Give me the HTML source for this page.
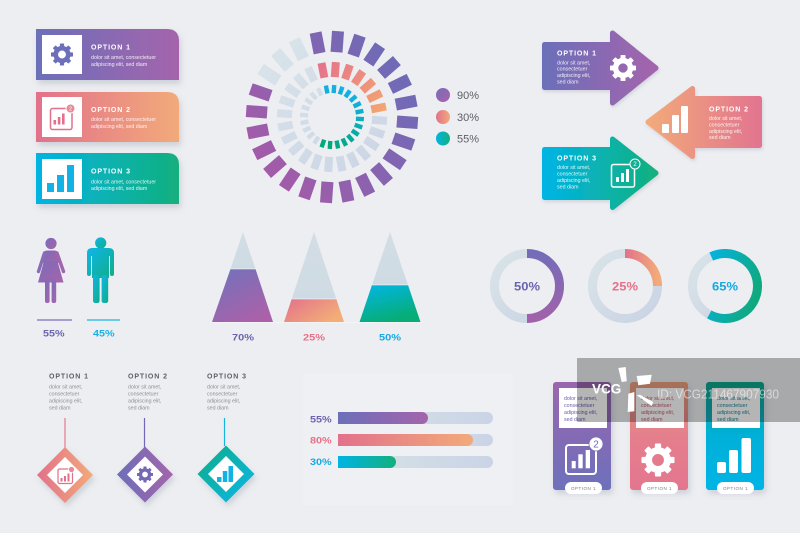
<!DOCTYPE html>
<html><head><meta charset="utf-8">
<style>
html,body{margin:0;padding:0;background:#edeef1;}
svg{display:block;font-family:"Liberation Sans",Arial,sans-serif;}
.h{font-weight:bold;font-size:7px;letter-spacing:0.9px;fill:#fff;}
.s{font-size:5.3px;fill:#fff;fill-opacity:0.88;}
.hd{font-weight:bold;font-size:7px;letter-spacing:0.9px;fill:#5b5f66;}
.sd{font-size:5.3px;fill:#8c8f95;}
.p{font-size:9.6px;font-weight:bold;}
.dn{font-size:11.5px;font-weight:bold;}
</style></head><body>
<svg width="800" height="533" viewBox="0 0 800 533" xmlns="http://www.w3.org/2000/svg">
<defs>
 <linearGradient id="gP" x1="0" y1="0" x2="1" y2="0"><stop offset="0" stop-color="#6c6fb9"/><stop offset="1" stop-color="#a464ac"/></linearGradient>
 <linearGradient id="gK" x1="0" y1="0" x2="1" y2="0"><stop offset="0" stop-color="#e2718b"/><stop offset="1" stop-color="#f2aa7a"/></linearGradient>
 <linearGradient id="gKr" x1="0" y1="0" x2="1" y2="0"><stop offset="0" stop-color="#f2aa7a"/><stop offset="1" stop-color="#e2758f"/></linearGradient>
 <linearGradient id="gC" x1="0" y1="0" x2="1" y2="0"><stop offset="0" stop-color="#00b4e4"/><stop offset="1" stop-color="#13b07d"/></linearGradient>
 <linearGradient id="gPd" x1="0" y1="0" x2="1" y2="1"><stop offset="0" stop-color="#7a6cb9"/><stop offset="1" stop-color="#a763ab"/></linearGradient>
 <linearGradient id="gCd" x1="0" y1="0" x2="1" y2="1"><stop offset="0" stop-color="#0cb6ea"/><stop offset="1" stop-color="#12ad84"/></linearGradient>
 <linearGradient id="gPv" x1="0" y1="0" x2="0.6" y2="1"><stop offset="0" stop-color="#6f72bc"/><stop offset="1" stop-color="#a962aa"/></linearGradient>
 <linearGradient id="gKv" x1="0" y1="0" x2="1" y2="0.6"><stop offset="0" stop-color="#e3708b"/><stop offset="1" stop-color="#f3ae78"/></linearGradient>
 <linearGradient id="gCv" x1="0" y1="0" x2="0.4" y2="1"><stop offset="0" stop-color="#00b6e8"/><stop offset="1" stop-color="#07ad76"/></linearGradient>
 <linearGradient id="gG" x1="0" y1="0" x2="1" y2="1"><stop offset="0" stop-color="#d9e4e8"/><stop offset="1" stop-color="#c9d3e4"/></linearGradient>
 <linearGradient id="gGh" x1="0" y1="0" x2="1" y2="0"><stop offset="0" stop-color="#d8e3e7"/><stop offset="1" stop-color="#cad4e6"/></linearGradient>
 <linearGradient id="gTri" x1="0" y1="0" x2="0" y2="1"><stop offset="0" stop-color="#d2dde5"/><stop offset="1" stop-color="#cfdbe4"/></linearGradient>
 <linearGradient id="rO" gradientUnits="userSpaceOnUse" x1="410" y1="60" x2="255" y2="170"><stop offset="0" stop-color="#6a6cb8"/><stop offset="1" stop-color="#a65aa8"/></linearGradient>
 <linearGradient id="rM" gradientUnits="userSpaceOnUse" x1="318" y1="62" x2="386" y2="110"><stop offset="0" stop-color="#e5718d"/><stop offset="1" stop-color="#f4a670"/></linearGradient>
 <linearGradient id="rI" gradientUnits="userSpaceOnUse" x1="340" y1="88" x2="318" y2="148"><stop offset="0" stop-color="#12b1e8"/><stop offset="1" stop-color="#00a873"/></linearGradient>
 <linearGradient id="rG" gradientUnits="userSpaceOnUse" x1="250" y1="35" x2="415" y2="200"><stop offset="0" stop-color="#dae5ea"/><stop offset="1" stop-color="#c8d1e4"/></linearGradient>
 <linearGradient id="dP" x1="0" y1="0" x2="0" y2="1"><stop offset="0" stop-color="#746cb9"/><stop offset="1" stop-color="#a062aa"/></linearGradient>
 <linearGradient id="dC" gradientUnits="userSpaceOnUse" x1="700" y1="270" x2="758" y2="290"><stop offset="0" stop-color="#04b3e6"/><stop offset="1" stop-color="#10a97f"/></linearGradient>
 <linearGradient id="cP" x1="0" y1="0" x2="0" y2="1"><stop offset="0" stop-color="#9a66ad"/><stop offset="1" stop-color="#6d70bc"/></linearGradient>
 <linearGradient id="cK" x1="0" y1="0" x2="0" y2="1"><stop offset="0" stop-color="#eca07c"/><stop offset="0.5" stop-color="#e47e8c"/><stop offset="1" stop-color="#e3768f"/></linearGradient>
 <linearGradient id="cC" x1="0" y1="0" x2="0" y2="1"><stop offset="0" stop-color="#10a68a"/><stop offset="0.5" stop-color="#04b0d8"/><stop offset="1" stop-color="#00b4e6"/></linearGradient>
 <filter id="sh" x="-20%" y="-20%" width="150%" height="160%"><feDropShadow dx="2" dy="4" stdDeviation="3" flood-color="#7d8aa0" flood-opacity="0.28"/></filter>
 <filter id="sh2" x="-20%" y="-20%" width="150%" height="160%"><feDropShadow dx="1" dy="2" stdDeviation="1.5" flood-color="#7d8aa0" flood-opacity="0.25"/></filter>
 <g id="gear">
  <circle r="5.7" fill="none" stroke="currentColor" stroke-width="4.2"/>
  <g fill="currentColor">
   <rect x="-1.9" y="-10" width="3.8" height="3.6" rx="0.6"/>
   <rect x="-1.9" y="-10" width="3.8" height="3.6" rx="0.6" transform="rotate(45)"/>
   <rect x="-1.9" y="-10" width="3.8" height="3.6" rx="0.6" transform="rotate(90)"/>
   <rect x="-1.9" y="-10" width="3.8" height="3.6" rx="0.6" transform="rotate(135)"/>
   <rect x="-1.9" y="-10" width="3.8" height="3.6" rx="0.6" transform="rotate(180)"/>
   <rect x="-1.9" y="-10" width="3.8" height="3.6" rx="0.6" transform="rotate(225)"/>
   <rect x="-1.9" y="-10" width="3.8" height="3.6" rx="0.6" transform="rotate(270)"/>
   <rect x="-1.9" y="-10" width="3.8" height="3.6" rx="0.6" transform="rotate(315)"/>
  </g>
 </g>
 <mask id="mOc"><g fill="#fff" transform="translate(332,117)">
  <rect x="-6" y="-86" width="12" height="21" transform="rotate(-11)"/>
  <rect x="-6" y="-86" width="12" height="21" transform="rotate(4)"/>
  <rect x="-6" y="-86" width="12" height="21" transform="rotate(19)"/>
  <rect x="-6" y="-86" width="12" height="21" transform="rotate(34)"/>
  <rect x="-6" y="-86" width="12" height="21" transform="rotate(49)"/>
  <rect x="-6" y="-86" width="12" height="21" transform="rotate(64)"/>
  <rect x="-6" y="-86" width="12" height="21" transform="rotate(79)"/>
  <rect x="-6" y="-86" width="12" height="21" transform="rotate(94)"/>
  <rect x="-6" y="-86" width="12" height="21" transform="rotate(109)"/>
  <rect x="-6" y="-86" width="12" height="21" transform="rotate(124)"/>
  <rect x="-6" y="-86" width="12" height="21" transform="rotate(139)"/>
  <rect x="-6" y="-86" width="12" height="21" transform="rotate(154)"/>
  <rect x="-6" y="-86" width="12" height="21" transform="rotate(169)"/>
  <rect x="-6" y="-86" width="12" height="21" transform="rotate(184)"/>
  <rect x="-6" y="-86" width="12" height="21" transform="rotate(199)"/>
  <rect x="-6" y="-86" width="12" height="21" transform="rotate(214)"/>
  <rect x="-6" y="-86" width="12" height="21" transform="rotate(229)"/>
  <rect x="-6" y="-86" width="12" height="21" transform="rotate(244)"/>
  <rect x="-6" y="-86" width="12" height="21" transform="rotate(259)"/>
  <rect x="-6" y="-86" width="12" height="21" transform="rotate(274)"/>
  <rect x="-6" y="-86" width="12" height="21" transform="rotate(289)"/>
 </g></mask>
 <mask id="mMc"><g fill="#fff" transform="translate(332,117)">
  <rect x="-4" y="-55" width="8" height="15" transform="rotate(-11)"/>
  <rect x="-4" y="-55" width="8" height="15" transform="rotate(4)"/>
  <rect x="-4" y="-55" width="8" height="15" transform="rotate(19)"/>
  <rect x="-4" y="-55" width="8" height="15" transform="rotate(34)"/>
  <rect x="-4" y="-55" width="8" height="15" transform="rotate(49)"/>
  <rect x="-4" y="-55" width="8" height="15" transform="rotate(64)"/>
  <rect x="-4" y="-55" width="8" height="15" transform="rotate(79)"/>
 </g></mask>
 <mask id="mIc"><g fill="#fff" transform="translate(332,117)">
  <rect x="-2.2" y="-32" width="4.4" height="8" transform="rotate(-11)"/>
  <rect x="-2.2" y="-32" width="4.4" height="8" transform="rotate(4)"/>
  <rect x="-2.2" y="-32" width="4.4" height="8" transform="rotate(19)"/>
  <rect x="-2.2" y="-32" width="4.4" height="8" transform="rotate(34)"/>
  <rect x="-2.2" y="-32" width="4.4" height="8" transform="rotate(49)"/>
  <rect x="-2.2" y="-32" width="4.4" height="8" transform="rotate(64)"/>
  <rect x="-2.2" y="-32" width="4.4" height="8" transform="rotate(79)"/>
  <rect x="-2.2" y="-32" width="4.4" height="8" transform="rotate(94)"/>
  <rect x="-2.2" y="-32" width="4.4" height="8" transform="rotate(109)"/>
  <rect x="-2.2" y="-32" width="4.4" height="8" transform="rotate(124)"/>
  <rect x="-2.2" y="-32" width="4.4" height="8" transform="rotate(139)"/>
  <rect x="-2.2" y="-32" width="4.4" height="8" transform="rotate(154)"/>
  <rect x="-2.2" y="-32" width="4.4" height="8" transform="rotate(169)"/>
  <rect x="-2.2" y="-32" width="4.4" height="8" transform="rotate(184)"/>
  <rect x="-2.2" y="-32" width="4.4" height="8" transform="rotate(199)"/>
 </g></mask>
 <mask id="mG"><g fill="#fff" transform="translate(332,117)">
  <rect x="-6" y="-86" width="12" height="21" transform="rotate(304)"/>
  <rect x="-6" y="-86" width="12" height="21" transform="rotate(319)"/>
  <rect x="-6" y="-86" width="12" height="21" transform="rotate(334)"/>
  <rect x="-4" y="-55" width="8" height="15" transform="rotate(94)"/>
  <rect x="-4" y="-55" width="8" height="15" transform="rotate(109)"/>
  <rect x="-4" y="-55" width="8" height="15" transform="rotate(124)"/>
  <rect x="-4" y="-55" width="8" height="15" transform="rotate(139)"/>
  <rect x="-4" y="-55" width="8" height="15" transform="rotate(154)"/>
  <rect x="-4" y="-55" width="8" height="15" transform="rotate(169)"/>
  <rect x="-4" y="-55" width="8" height="15" transform="rotate(184)"/>
  <rect x="-4" y="-55" width="8" height="15" transform="rotate(199)"/>
  <rect x="-4" y="-55" width="8" height="15" transform="rotate(214)"/>
  <rect x="-4" y="-55" width="8" height="15" transform="rotate(229)"/>
  <rect x="-4" y="-55" width="8" height="15" transform="rotate(244)"/>
  <rect x="-4" y="-55" width="8" height="15" transform="rotate(259)"/>
  <rect x="-4" y="-55" width="8" height="15" transform="rotate(274)"/>
  <rect x="-4" y="-55" width="8" height="15" transform="rotate(289)"/>
  <rect x="-4" y="-55" width="8" height="15" transform="rotate(304)"/>
  <rect x="-4" y="-55" width="8" height="15" transform="rotate(319)"/>
  <rect x="-4" y="-55" width="8" height="15" transform="rotate(334)"/>
  <rect x="-2.2" y="-32" width="4.4" height="8" transform="rotate(214)"/>
  <rect x="-2.2" y="-32" width="4.4" height="8" transform="rotate(229)"/>
  <rect x="-2.2" y="-32" width="4.4" height="8" transform="rotate(244)"/>
  <rect x="-2.2" y="-32" width="4.4" height="8" transform="rotate(259)"/>
  <rect x="-2.2" y="-32" width="4.4" height="8" transform="rotate(274)"/>
  <rect x="-2.2" y="-32" width="4.4" height="8" transform="rotate(289)"/>
  <rect x="-2.2" y="-32" width="4.4" height="8" transform="rotate(304)"/>
  <rect x="-2.2" y="-32" width="4.4" height="8" transform="rotate(319)"/>
  <rect x="-2.2" y="-32" width="4.4" height="8" transform="rotate(334)"/>
 </g></mask>
</defs>

<rect width="800" height="533" fill="#edeef1"/>

<!-- ===== Top-left cards ===== -->
<g filter="url(#sh)">
 <path d="M36,29 H167 Q179,29 179,41 V80 H36 Z" fill="url(#gP)"/>
 <path d="M36,92 H167 Q179,92 179,104 V142 H36 Z" fill="url(#gK)"/>
 <path d="M36,153 H167 Q179,153 179,165 V204 H36 Z" fill="url(#gC)"/>
</g>
<rect x="42" y="35" width="40" height="39" fill="#fff"/>
<rect x="42" y="97" width="40" height="40" fill="#fff"/>
<rect x="42" y="159" width="40" height="40" fill="#fff"/>
<use href="#gear" transform="translate(62,54.5) scale(1.1)" style="color:#6c6fb9"/>
<rect x="50.5" y="108.5" width="21.5" height="21" rx="2" fill="none" stroke="#e2718b" stroke-width="1.5"/>
<g fill="#e2718b"><rect x="53.5" y="120" width="2.6" height="4.5"/><rect x="57.8" y="117" width="2.6" height="7.5"/><rect x="62" y="113.5" width="2.6" height="11"/></g>
<circle cx="70.5" cy="108.5" r="4.5" fill="#e78a95" stroke="#fff" stroke-width="1"/>
<text x="70.5" y="110.6" font-size="5.5" fill="#fff" text-anchor="middle">2</text>
<g fill="#12b3e4"><rect x="47" y="183" width="7" height="9"/><rect x="57" y="175" width="7" height="17"/><rect x="67" y="165" width="7" height="27"/></g>
<text class="h" x="91" y="49.5">OPTION 1</text>
<text class="s" x="91" y="59">dolor sit amet, consectetuer</text>
<text class="s" x="91" y="65.8">adipiscing elit, sed diam</text>
<text class="h" x="91" y="111.8">OPTION 2</text>
<text class="s" x="91" y="121">dolor sit amet, consectetuer</text>
<text class="s" x="91" y="127.8">adipiscing elit, sed diam</text>
<text class="h" x="91" y="173.5">OPTION 3</text>
<text class="s" x="91" y="183.3">dolor sit amet, consectetuer</text>
<text class="s" x="91" y="190">adipiscing elit, sed diam</text>

<!-- ===== Radial chart ===== -->
<rect x="240" y="25" width="185" height="185" fill="url(#rG)" mask="url(#mG)"/>
<rect x="240" y="25" width="185" height="185" fill="url(#rO)" mask="url(#mOc)"/>
<rect x="240" y="25" width="185" height="185" fill="url(#rM)" mask="url(#mMc)"/>
<rect x="240" y="25" width="185" height="185" fill="url(#rI)" mask="url(#mIc)"/>
<circle cx="443" cy="95" r="7" fill="url(#gPd)"/>
<circle cx="443" cy="117" r="7" fill="url(#gK)"/>
<circle cx="443" cy="138.5" r="7" fill="url(#gC)"/>
<g font-size="11" fill="#5c5f66">
 <text x="457" y="99">90%</text><text x="457" y="121">30%</text><text x="457" y="142.5">55%</text>
</g>

<!-- ===== Arrows ===== -->
<g filter="url(#sh2)" stroke-linejoin="round" stroke-width="5">
 <polygon points="544.5,44.5 612.5,44.5 612.5,33 656,68 612.5,103 612.5,87.5 544.5,87.5" fill="url(#gP)" stroke="url(#gP)"/>
 <polygon points="759.5,98.5 692.5,98.5 692.5,88.5 648,122 692.5,156.5 692.5,145.5 759.5,145.5" fill="url(#gKr)" stroke="url(#gKr)"/>
 <polygon points="544.5,149.5 612.5,149.5 612.5,139 656,173 612.5,207.5 612.5,197.5 544.5,197.5" fill="url(#gC)" stroke="url(#gC)"/>
</g>
<use href="#gear" transform="translate(623,68) scale(1.3)" style="color:#fff"/>
<g fill="#fff"><rect x="662" y="124" width="7" height="9" rx="1"/><rect x="672" y="115" width="7" height="18" rx="1"/><rect x="681" y="106" width="7" height="27" rx="1"/></g>
<rect x="611.5" y="164.5" width="23" height="22.5" rx="2" fill="none" stroke="#fff" stroke-width="1.5"/>
<g fill="#fff"><rect x="616" y="177" width="3" height="5"/><rect x="621" y="173" width="3" height="9"/><rect x="626" y="169" width="3" height="13"/></g>
<circle cx="635" cy="164" r="5" fill="#12ae92" stroke="#fff" stroke-width="1"/>
<text x="635" y="166.2" font-size="6" fill="#fff" text-anchor="middle">2</text>
<text class="h" x="557" y="55.5">OPTION 1</text>
<text class="s" x="557" y="64.5">dolor sit amet,</text>
<text class="s" x="557" y="70.7">consectetuer</text>
<text class="s" x="557" y="77">adipiscing elit,</text>
<text class="s" x="557" y="83.5">sed diam</text>
<text class="h" x="709" y="111.5">OPTION 2</text>
<text class="s" x="709" y="120">dolor sit amet,</text>
<text class="s" x="709" y="126.3">consectetuer</text>
<text class="s" x="709" y="132.8">adipiscing elit,</text>
<text class="s" x="709" y="139">sed diam</text>
<text class="h" x="557" y="160.5">OPTION 3</text>
<text class="s" x="557" y="169">dolor sit amet,</text>
<text class="s" x="557" y="175.5">consectetuer</text>
<text class="s" x="557" y="182">adipiscing elit,</text>
<text class="s" x="557" y="188.3">sed diam</text>

<!-- ===== People ===== -->
<g fill="url(#gPd)">
 <circle cx="51" cy="243.5" r="5.6"/>
 <path d="M43,263 L43,255 Q43,250.5 47.5,250.5 L54,250.5 Q58.5,250.5 58.5,255 L58.5,263 Z"/>
 <line x1="44.5" y1="253" x2="38.5" y2="271.5" stroke="#8a6bb6" stroke-width="3.4" stroke-linecap="round"/>
 <line x1="57" y1="253" x2="63.5" y2="271.5" stroke="#9f66ae" stroke-width="3.4" stroke-linecap="round"/>
 <polygon points="44,261 57.5,261 63.5,282.5 38,282.5"/>
 <rect x="45" y="279" width="4.6" height="24" rx="2"/>
 <rect x="51.6" y="279" width="4.6" height="24" rx="2"/>
</g>
<g fill="url(#gCd)">
 <circle cx="100.7" cy="243" r="5.6"/>
 <path d="M87,274 L87,253 Q87,248 92,248 L109,248 Q114,248 114,253 L114,274 Q114,276 112,276 Q110,276 110,274 L110,256 L109,256 L109,278 L92,278 L92,256 L91,256 L91,274 Q91,276 89,276 Q87,276 87,274 Z"/>
 <rect x="93" y="275" width="6.6" height="28" rx="2.2"/>
 <rect x="101.6" y="275" width="6.6" height="28" rx="2.2"/>
</g>
<line x1="37" y1="320" x2="72" y2="320" stroke="#7a70b8" stroke-width="1.3"/>
<line x1="87" y1="320" x2="120" y2="320" stroke="#1cb6e2" stroke-width="1.3"/>
<text class="p" x="43" y="336.5" fill="#6a64b0" textLength="21.5" lengthAdjust="spacingAndGlyphs">55%</text>
<text class="p" x="93" y="336.5" fill="#16b0e4" textLength="21.5" lengthAdjust="spacingAndGlyphs">45%</text>

<!-- ===== Triangles ===== -->
<polygon points="243,232 255.5,269 230.5,269" fill="url(#gTri)"/>
<polygon points="230.5,269 255.5,269 273,322 212,322" fill="url(#gPv)"/>
<line x1="230.5" y1="269" x2="255.5" y2="269" stroke="#fff" stroke-opacity="0.7" stroke-width="0.8"/>
<polygon points="314,232 336.3,299 291.7,299" fill="url(#gTri)"/>
<polygon points="291.7,299 336.3,299 344,322 284,322" fill="url(#gKv)"/>
<line x1="291.7" y1="299" x2="336.3" y2="299" stroke="#fff" stroke-opacity="0.7" stroke-width="0.8"/>
<polygon points="390,232 408,285 372,285" fill="url(#gTri)"/>
<polygon points="372,285 408,285 420.5,322 359.5,322" fill="url(#gCv)"/>
<line x1="372" y1="285" x2="408" y2="285" stroke="#fff" stroke-opacity="0.7" stroke-width="0.8"/>
<line x1="210" y1="322.6" x2="422" y2="322.6" stroke="#fff" stroke-opacity="0.5" stroke-width="0.8"/>
<text class="p" x="232" y="340.5" fill="#6a64b0" textLength="22" lengthAdjust="spacingAndGlyphs">70%</text>
<text class="p" x="303" y="340.5" fill="#e57088" textLength="22" lengthAdjust="spacingAndGlyphs">25%</text>
<text class="p" x="379" y="340.5" fill="#14a9e2" textLength="22" lengthAdjust="spacingAndGlyphs">50%</text>

<!-- ===== Donuts ===== -->
<g fill="none" stroke-width="9">
 <circle cx="527" cy="286" r="32.5" stroke="url(#gG)"/>
 <circle cx="625" cy="286" r="32.5" stroke="url(#gG)"/>
 <circle cx="725" cy="286" r="32.5" stroke="url(#gG)"/>
 <path d="M527,253.5 A32.5,32.5 0 0 1 527,318.5" stroke="url(#dP)"/>
 <path d="M625,253.5 A32.5,32.5 0 0 1 657.5,286" stroke="url(#gK)"/>
 <path d="M711.26,256.55 A32.5,32.5 0 1 1 709.24,314.43" stroke="url(#dC)"/>
</g>
<text class="dn" x="514" y="290.3" fill="#6a64b0" textLength="26" lengthAdjust="spacingAndGlyphs">50%</text>
<text class="dn" x="612" y="290.3" fill="#e57088" textLength="26" lengthAdjust="spacingAndGlyphs">25%</text>
<text class="dn" x="712" y="290.3" fill="#14a9e2" textLength="26" lengthAdjust="spacingAndGlyphs">65%</text>

<!-- ===== Bottom-left diamonds ===== -->
<text class="hd" x="49" y="378.5">OPTION 1</text>
<text class="sd" x="49" y="388.5">dolor sit amet,</text>
<text class="sd" x="49" y="395.5">consectetuer</text>
<text class="sd" x="49" y="402.5">adipiscing elit,</text>
<text class="sd" x="49" y="409.5">sed diam</text>
<text class="hd" x="128" y="378.5">OPTION 2</text>
<text class="sd" x="128" y="388.5">dolor sit amet,</text>
<text class="sd" x="128" y="395.5">consectetuer</text>
<text class="sd" x="128" y="402.5">adipiscing elit,</text>
<text class="sd" x="128" y="409.5">sed diam</text>
<text class="hd" x="207" y="378.5">OPTION 3</text>
<text class="sd" x="207" y="388.5">dolor sit amet,</text>
<text class="sd" x="207" y="395.5">consectetuer</text>
<text class="sd" x="207" y="402.5">adipiscing elit,</text>
<text class="sd" x="207" y="409.5">sed diam</text>
<line x1="65" y1="418" x2="65" y2="448" stroke="#e57990" stroke-width="1.2"/>
<line x1="144.5" y1="418" x2="144.5" y2="448" stroke="#7468b6" stroke-width="1.2"/>
<line x1="224.5" y1="418" x2="224.5" y2="446" stroke="#16b4e0" stroke-width="1.2"/>
<g filter="url(#sh)">
 <polygon points="65,447 93,475 65,503 37,475" fill="url(#gK)"/>
 <polygon points="145,446.5 173,474.5 145,502.5 117,474.5" fill="url(#gP)"/>
 <polygon points="226,445.5 254.5,474 226,502.5 197.5,474" fill="url(#gCd)" transform="rotate(180 226 474)"/>
</g>
<polygon points="65,457 83,475 65,493 47,475" fill="#fff"/>
<polygon points="145,456.5 163,474.5 145,492.5 127,474.5" fill="#fff"/>
<polygon points="226,456 244,474 226,492 208,474" fill="#fff"/>
<rect x="58" y="469" width="14.5" height="14.5" rx="1.5" fill="none" stroke="#e2718b" stroke-width="1.2"/>
<g fill="#e2718b"><rect x="60.5" y="478" width="2" height="3.5"/><rect x="64" y="476" width="2" height="5.5"/><rect x="67.5" y="473.5" width="2" height="8"/></g>
<circle cx="71.5" cy="469.5" r="3" fill="#e78a95" stroke="#fff" stroke-width="0.8"/>
<use href="#gear" transform="translate(145,474.5) scale(0.8)" style="color:#7468b6"/>
<g fill="#12b3e4"><rect x="217" y="477" width="4.5" height="5"/><rect x="222.8" y="471" width="4.5" height="11"/><rect x="228.5" y="466" width="4.5" height="16"/></g>

<!-- ===== Progress bars ===== -->
<rect x="303" y="373" width="210" height="132" fill="#f0f1f3" opacity="0.7"/>
<g fill="url(#gGh)">
 <path d="M338,412 H487 A6,6 0 0 1 487,424 H338 Z"/>
 <path d="M338,434 H487 A6,6 0 0 1 487,446 H338 Z"/>
 <path d="M338,456 H487 A6,6 0 0 1 487,468 H338 Z"/>
</g>
<path d="M338,412 H422 A6,6 0 0 1 422,424 H338 Z" fill="url(#gP)"/>
<path d="M338,434 H467 A6,6 0 0 1 467,446 H338 Z" fill="url(#gK)"/>
<path d="M338,456 H390 A6,6 0 0 1 390,468 H338 Z" fill="url(#gC)"/>
<text class="p" x="310" y="422.4" fill="#6a64b0" textLength="21.7" lengthAdjust="spacingAndGlyphs">55%</text>
<text class="p" x="310" y="443.4" fill="#e57088" textLength="21.7" lengthAdjust="spacingAndGlyphs">80%</text>
<text class="p" x="310" y="465.1" fill="#14a9e2" textLength="21.7" lengthAdjust="spacingAndGlyphs">30%</text>

<!-- ===== Bottom-right cards ===== -->
<g filter="url(#sh)">
 <rect x="553" y="382" width="58" height="108" rx="3" fill="url(#cP)"/>
 <rect x="630" y="382" width="58" height="108" rx="3" fill="url(#cK)"/>
 <rect x="706" y="382" width="58" height="108" rx="3" fill="url(#cC)"/>
</g>
<rect x="559" y="388" width="48" height="40" fill="#fff"/>
<rect x="636" y="388" width="48" height="40" fill="#fff"/>
<rect x="712" y="388" width="48" height="40" fill="#fff"/>
<g font-size="5.3">
 <g fill="#6a5fae"><text x="564" y="400">dolor sit amet,</text><text x="564" y="407">consectetuer</text><text x="564" y="414">adipiscing elit,</text><text x="564" y="421">sed diam</text></g>
 <g fill="#c2586f"><text x="641" y="400">dolor sit amet,</text><text x="641" y="407">consectetuer</text><text x="641" y="414">adipiscing elit,</text><text x="641" y="421">sed diam</text></g>
 <g fill="#1b8496"><text x="717" y="400">dolor sit amet,</text><text x="717" y="407">consectetuer</text><text x="717" y="414">adipiscing elit,</text><text x="717" y="421">sed diam</text></g>
</g>
<rect x="566" y="445" width="30" height="29" rx="3" fill="none" stroke="#fff" stroke-width="2"/>
<g fill="#fff"><rect x="571.7" y="461" width="4" height="7.3"/><rect x="578.3" y="454.3" width="4.4" height="14"/><rect x="585.7" y="450" width="4.3" height="18.3"/></g>
<circle cx="596" cy="444" r="7" fill="#fff" stroke="#7470ba" stroke-width="0.8"/>
<text x="596" y="447.6" font-size="10" fill="#6f6bb8" text-anchor="middle">2</text>
<use href="#gear" transform="translate(658,460) scale(1.65)" style="color:#fff"/>
<g fill="#fff"><rect x="717" y="462" width="9" height="11" rx="2"/><rect x="729" y="450" width="9" height="23" rx="2"/><rect x="741.5" y="438" width="9.5" height="35" rx="2"/></g>
<g fill="#fff"><rect x="565" y="482" width="37" height="12" rx="6"/><rect x="641" y="482" width="37" height="12" rx="6"/><rect x="717" y="482" width="37" height="12" rx="6"/></g>
<g font-size="4.5" fill="#7a7d83" text-anchor="middle" letter-spacing="0.5">
 <text x="583.5" y="489.8">OPTION 1</text><text x="659.5" y="489.8">OPTION 1</text><text x="735.5" y="489.8">OPTION 1</text>
</g>

<!-- ===== Watermark ===== -->
<rect x="577" y="358" width="223" height="64" fill="#000" fill-opacity="0.29"/>
<g fill="#fff">
 <polygon points="618.3,368 625.7,367 626.7,381.3 621.7,382"/>
 <polygon points="636.7,376 651.7,374.7 650,383.7 638.3,385.3"/>
 <polygon points="628.3,393.7 634.3,392 634.3,411.3 627.7,412"/>
 <polygon points="636.7,395.3 640,394.7 653.3,402 651.7,406"/>
</g>
<text x="592" y="393.5" font-size="13.5" font-weight="bold" fill="#fff">VCG</text>
<text x="657" y="398.5" font-size="12.5" fill="#fff" fill-opacity="0.55" textLength="122" lengthAdjust="spacingAndGlyphs">ID: VCG211467907930</text>
</svg>
</body></html>
